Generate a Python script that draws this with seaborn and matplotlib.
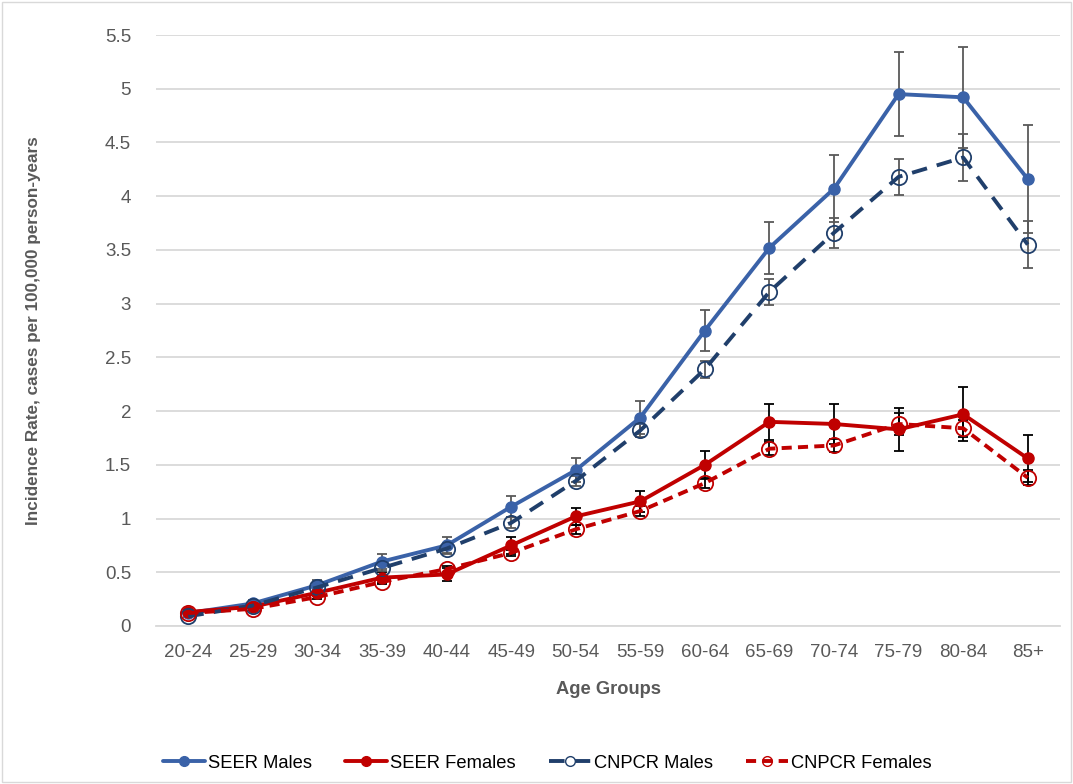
"""Incidence rate by age group, SEER vs CNPCR, males and females."""
import pandas as pd
import seaborn as sns
import matplotlib.pyplot as plt
import matplotlib.patches as mpatches
from matplotlib.lines import Line2D

sns.set_style("white")
plt.rcParams["font.family"] = ["Liberation Sans", "DejaVu Sans"]

# Data
age_groups = ["20-24", "25-29", "30-34", "35-39", "40-44", "45-49", "50-54",
              "55-59", "60-64", "65-69", "70-74", "75-79", "80-84", "85+"]

seer_males = [0.12, 0.21, 0.38, 0.60, 0.75, 1.11, 1.45, 1.94, 2.75, 3.52, 4.07, 4.95, 4.92, 4.16]
seer_males_err = [0.02, 0.03, 0.05, 0.07, 0.08, 0.10, 0.11, 0.15, 0.19, 0.24, 0.31, 0.39, 0.47, 0.50]

seer_females = [0.13, 0.18, 0.31, 0.45, 0.48, 0.75, 1.02, 1.16, 1.50, 1.90, 1.88, 1.83, 1.97, 1.56]
seer_females_err = [0.02, 0.02, 0.03, 0.05, 0.06, 0.08, 0.08, 0.10, 0.13, 0.17, 0.19, 0.20, 0.25, 0.22]

cnpcr_males = [0.09, 0.19, 0.36, 0.54, 0.72, 0.96, 1.35, 1.82, 2.39, 3.11, 3.66, 4.18, 4.36, 3.55]
cnpcr_males_err = [0.01, 0.01, 0.02, 0.03, 0.04, 0.05, 0.05, 0.06, 0.08, 0.12, 0.14, 0.17, 0.22, 0.22]

cnpcr_females = [0.12, 0.16, 0.27, 0.41, 0.53, 0.68, 0.90, 1.07, 1.33, 1.65, 1.68, 1.88, 1.84, 1.38]
cnpcr_females_err = [0.01, 0.01, 0.02, 0.02, 0.03, 0.03, 0.04, 0.05, 0.05, 0.06, 0.06, 0.10, 0.08, 0.07]

series = [
    # label, values, errors, color, linestyle, marker face, error color, legend face
    ("SEER Males", seer_males, seer_males_err, "#3A62A8", "-", "#3A62A8", "#595959", "#3A62A8"),
    ("SEER Females", seer_females, seer_females_err, "#C00000", "-", "#C00000", "black", "#C00000"),
    ("CNPCR Males", cnpcr_males, cnpcr_males_err, "#203F6B", (0, (4, 2.6)), "none", "#595959", "white"),
    ("CNPCR Females", cnpcr_females, cnpcr_females_err, "#C00000", (0, (2.6, 1.6)), "none", "black", "none"),
]

############################## Plot it.

fig = plt.figure(figsize=(10.73, 7.84), dpi=100)
ax = fig.add_axes([156 / 1073, 1 - 626 / 784, 904 / 1073, 591 / 784])

TEXT_COLOR = "#595959"
GRID_COLOR = "#D9D9D9"

handles = []
for label, vals, errs, color, ls, face, ecolor, lface in series:
    df = pd.DataFrame({"age": age_groups, "rate": vals})
    ax.errorbar(age_groups, vals, yerr=errs, fmt="none", ecolor=ecolor,
                elinewidth=1.3, capsize=3.5, capthick=1.3, zorder=2)
    is_open = face == "none"
    sns.lineplot(data=df, x="age", y="rate", ax=ax, color=color,
                 linewidth=2.8, linestyle=ls, marker="o",
                 markersize=11 if is_open else 8,
                 markerfacecolor=face, markeredgecolor=color,
                 markeredgewidth=1.3 if is_open else 1,
                 sort=False, legend=False, zorder=3)
    handles.append(Line2D([], [], color=color, linewidth=2.8, linestyle=ls,
                          marker="o", markersize=7, markerfacecolor=lface,
                          markeredgecolor=color, label=label))

# a e s t h e t i c s
ax.set_xlim(-0.5, len(age_groups) - 0.5)
ax.set_ylim(0, 5.5)
ax.yaxis.set_major_locator(plt.MultipleLocator(0.5))
ax.yaxis.set_major_formatter(plt.FuncFormatter(lambda v, _: f"{v:g}"))
ax.grid(axis="y", color=GRID_COLOR, linewidth=1.3)
ax.set_axisbelow(True)
for side in ["top", "right", "left"]:
    ax.spines[side].set_visible(False)
ax.spines["bottom"].set_color(GRID_COLOR)
ax.spines["bottom"].set_linewidth(1.3)
ax.tick_params(axis="y", length=0, labelsize=13.5, labelcolor=TEXT_COLOR, pad=18)
ax.tick_params(axis="x", length=0, labelsize=13.5, labelcolor=TEXT_COLOR, pad=13)
ax.set_xlabel("Age Groups", fontsize=13.2, fontweight="bold", color=TEXT_COLOR)
ax.set_ylabel("Incidence Rate, cases per 100,000 person-years", fontsize=12.3,
              fontweight="bold", color=TEXT_COLOR)
ax.xaxis.set_label_coords(0.5, -(681 - 626) / 591)
ax.yaxis.set_label_coords(-(156 - 41) / 904, 0.5)

fig.legend(handles=handles, loc="center", bbox_to_anchor=(0.51, 1 - 763 / 784),
           ncol=4, frameon=False, fontsize=13.2, handlelength=2.3,
           columnspacing=1.8, handletextpad=0.15, labelcolor="black")

# outer border
fig.patches.append(mpatches.Rectangle((0.002, 0.002), 0.996, 0.996, transform=fig.transFigure,
                                      fill=False, edgecolor="#D9D9D9", linewidth=1))

plt.savefig("out.png", dpi=100)
plt.close()
